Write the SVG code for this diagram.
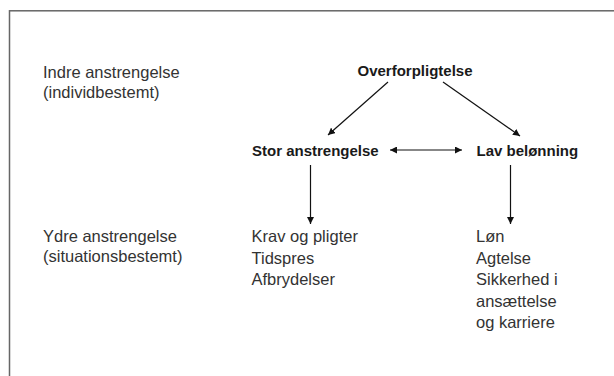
<svg xmlns="http://www.w3.org/2000/svg" width="614" height="376" viewBox="0 0 614 376">
<style>
.t{font-family:"Liberation Sans",Arial,sans-serif;font-size:16.5px;fill:#333}
.b{font-family:"Liberation Sans",Arial,sans-serif;font-size:15px;font-weight:bold;fill:#1a1a1a}
.c{stroke:#111;stroke-width:1.2;fill:none}
</style>
<defs>
<marker id="ah" viewBox="0 0 10 10" refX="10" refY="5" markerWidth="7" markerHeight="7" markerUnits="userSpaceOnUse" orient="auto-start-reverse">
<path d="M0,0 L10,5 L0,10 z" fill="#111"/>
</marker>
</defs>
<rect x="9.5" y="10.8" width="700" height="400" fill="#fff" stroke="#666" stroke-width="1.5"/>
<g id="labels-left">
<text class="t" x="43" y="78">Indre anstrengelse</text>
<text class="t" x="43" y="97.5">(individbestemt)</text>
<text class="t" x="43" y="242">Ydre anstrengelse</text>
<text class="t" x="43" y="261.5">(situationsbestemt)</text>
</g>
<g id="node-overforpligtelse"><text class="b" x="415" y="76" text-anchor="middle">Overforpligtelse</text></g>
<g id="node-stor"><text class="b" x="252" y="156">Stor anstrengelse</text></g>
<g id="node-lav"><text class="b" x="476.5" y="156">Lav belønning</text></g>
<g id="node-krav">
<text class="t" x="251.5" y="242">Krav og pligter</text>
<text class="t" x="251.5" y="263.5">Tidspres</text>
<text class="t" x="251.5" y="285">Afbrydelser</text>
</g>
<g id="node-lon">
<text class="t" x="476" y="242">Løn</text>
<text class="t" x="476" y="263.5">Agtelse</text>
<text class="t" x="476" y="285">Sikkerhed i</text>
<text class="t" x="476" y="306.5">ansættelse</text>
<text class="t" x="476" y="328">og karriere</text>
</g>
<g id="connectors">
<line class="c" x1="388" y1="82" x2="328" y2="135" marker-end="url(#ah)"/>
<line class="c" x1="443" y1="82" x2="520" y2="136" marker-end="url(#ah)"/>
<line class="c" x1="390" y1="150" x2="462" y2="150" marker-start="url(#ah)" marker-end="url(#ah)"/>
<line class="c" x1="310.5" y1="165" x2="310.5" y2="224" marker-end="url(#ah)"/>
<line class="c" x1="510.5" y1="165" x2="510.5" y2="224" marker-end="url(#ah)"/>
</g>
</svg>
